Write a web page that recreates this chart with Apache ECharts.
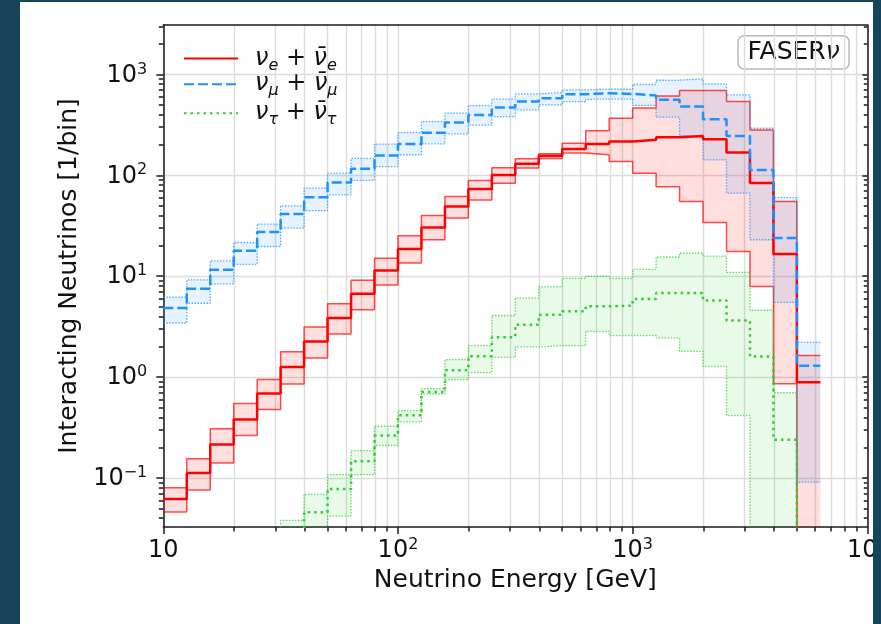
<!DOCTYPE html>
<html>
<head>
<meta charset="utf-8">
<title>FASERν interacting neutrino spectra</title>
<script src="https://cdn.jsdelivr.net/npm/echarts@6/dist/echarts.min.js"></script>
<style>
  html, body { margin: 0; padding: 0; width: 881px; height: 624px; overflow: hidden; background: #15445b; }
  #panel { position: absolute; left: 20px; top: 2px; width: 853px; height: 622px; background: #ffffff; overflow: hidden; }
  #chart { width: 853px; height: 622px; }
</style>
</head>
<body>
<div id="panel"><div id="chart"></div></div>
<script>
// Energy bin edges [GeV]: 10 logarithmic bins per decade
const binEdges = [10, 12.59, 15.85, 19.95, 25.12, 31.62, 39.81, 50.12, 63.10, 79.43,
  100, 125.9, 158.5, 199.5, 251.2, 316.2, 398.1, 501.2, 631.0, 794.3,
  1000, 1259, 1585, 1995, 2512, 3162, 3981, 5012, 6310];

// Interacting neutrinos per bin: central value and uncertainty band (0 = off scale)
const nueCentral = [0.062, 0.112, 0.215, 0.38, 0.69, 1.26, 2.26, 3.86, 6.7, 11.4,
  18.6, 30.4, 49, 73, 101, 130, 156, 182, 204, 216,
  225, 239, 246, 228, 168, 84, 16.6, 0.89];
const nueUpper = [0.080, 0.155, 0.307, 0.547, 0.945, 1.78, 3.14, 5.35, 9.1, 15.1,
  25.2, 40, 61.6, 88.9, 119, 146, 164, 208, 276, 368,
  465, 613, 692, 692, 539, 282, 55, 1.64];
const nueLower = [0.046, 0.076, 0.141, 0.264, 0.477, 0.857, 1.55, 2.68, 4.66, 8.2,
  13.5, 23, 37.7, 57.1, 83.6, 118, 147, 166, 160, 137,
  105, 77, 55, 34, 17.6, 7.9, 0.86, 0];

const numuCentral = [4.84, 7.5, 11.6, 17.9, 27.4, 41.3, 60.8, 85, 116, 157,
  204, 265, 333, 397, 469, 538, 581, 637, 652, 641,
  620, 560, 480, 360, 246, 113, 23.9, 1.30];
const numuUpper = [6.2, 9.2, 14.2, 21.6, 32.9, 49.9, 74.6, 105, 147, 204,
  265, 341, 413, 491, 568, 641, 661, 703, 713, 713,
  795, 876, 903, 805, 627, 293, 60, 2.21];
const numuLower = [3.44, 5.4, 8.4, 13.1, 19.7, 30.0, 44.6, 64, 89, 122,
  160, 205, 258, 314, 382, 446, 499, 538, 568, 568,
  493, 377, 246, 142, 66.7, 23, 5.5, 0.091];

const nutauCentral = [0, 0, 0, 0, 0, 0, 0.0459, 0.078, 0.147, 0.264,
  0.419, 0.713, 1.17, 1.61, 2.48, 3.31, 4.16, 4.49, 5.03, 5.11,
  5.94, 6.82, 6.82, 5.75, 3.65, 1.6, 0.24, 0];
const nutauUpper = [0, 0, 0, 0, 0, 0.038, 0.0687, 0.108, 0.187, 0.326,
  0.466, 0.769, 1.49, 2.05, 4.08, 6.08, 7.85, 9.5, 10.0, 9.5,
  11.7, 15.5, 17.0, 15.8, 10.9, 4.6, 0.70, 0];
const nutauLower = [0, 0, 0, 0, 0, 0, 0, 0.042, 0.108, 0.210,
  0.360, 0.682, 0.944, 1.11, 1.57, 1.99, 2.05, 2.05, 2.84, 2.58,
  2.58, 2.45, 1.80, 1.28, 0.416, 0, 0, 0];

// Tick values
const xMajorTicks = [10, 100, 1000, 10000];
const yMajorTicks = [0.1, 1, 10, 100, 1000];

const FONT = 'DejaVu Sans';
const TEXT = '#111111';
const X_MIN = 10, X_MAX = 10000;
const Y_MIN = 0.0327, Y_MAX = 3090;
const OFF_SCALE = 1e-3;                 // zero counts are drawn below the axis floor
const offScale = v => (v > 0 ? v : OFF_SCALE);

const xMinorTicks = [];
[10, 100, 1000].forEach(d => { for (let m = 2; m <= 9; m++) xMinorTicks.push(m * d); });
const yMinorTicks = [];
[0.01, 0.1, 1, 10, 100, 1000].forEach(d => {
  for (let m = 2; m <= 9; m++) { const v = m * d; if (v > Y_MIN && v < Y_MAX) yMinorTicks.push(v); }
});

const powerRich = {
  b: { fontFamily: FONT, fontSize: 24, lineHeight: 26, verticalAlign: 'bottom', color: TEXT },
  s: { fontFamily: FONT, fontSize: 16, lineHeight: 16, verticalAlign: 'top', color: TEXT }
};
function powerLabel(value, plainTen) {
  const e = Math.round(Math.log10(value));
  if (plainTen && e === 1) return '{b|10}';
  return '{b|10}{s|' + (e < 0 ? '\u2212' + (-e) : e) + '}';
}

// Step outline (matplotlib "post" style) through the bin edges
function stepPoints(values) {
  const pts = values.map((v, k) => [binEdges[k], offScale(v)]);
  pts.push([binEdges[values.length], offScale(values[values.length - 1])]);
  return pts;
}

function bandFill(name, lower, upper, fill) {
  return {
    type: 'custom', name: name, silent: true, z: 1,
    xAxisIndex: 0, yAxisIndex: 0,
    data: lower.map((lo, k) => [binEdges[k], binEdges[k + 1], offScale(lo), offScale(upper[k])]),
    encode: { x: [0, 1], y: [2, 3] },
    renderItem(params, api) {
      if (api.value(3) <= OFF_SCALE) return null;
      const p0 = api.coord([api.value(0), api.value(3)]);
      const p1 = api.coord([api.value(1), api.value(2)]);
      const cs = params.coordSys;
      const rect = echarts.graphic.clipRectByRect(
        { x: p0[0], y: p0[1], width: p1[0] - p0[0], height: p1[1] - p0[1] },
        { x: cs.x, y: cs.y, width: cs.width, height: cs.height });
      return rect ? { type: 'rect', shape: rect, style: { fill: fill } } : null;
    }
  };
}

function stepLine(name, values, lineStyle, z) {
  return {
    type: 'line', name: name, step: 'end', data: stepPoints(values),
    xAxisIndex: 0, yAxisIndex: 0, symbol: 'none', showSymbol: false,
    clip: true, silent: true, z: z, lineStyle: lineStyle,
    emphasis: { disabled: true }
  };
}

const RED = '#ff0000', BLUE = '#1e90ff', GREEN = '#32cd32';

const series = [
  bandFill('nue band', nueLower, nueUpper, 'rgba(255,0,0,0.13)'),
  bandFill('numu band', numuLower, numuUpper, 'rgba(30,144,255,0.11)'),
  bandFill('nutau band', nutauLower, nutauUpper, 'rgba(50,205,50,0.11)'),

  stepLine('nue upper', nueUpper, { color: 'rgba(255,0,0,0.7)', width: 1.5 }, 2),
  stepLine('nue lower', nueLower, { color: 'rgba(255,0,0,0.7)', width: 1.5 }, 2),
  stepLine('numu upper', numuUpper, { color: 'rgba(30,144,255,0.75)', width: 1.3, type: [1.5, 1.5] }, 2),
  stepLine('numu lower', numuLower, { color: 'rgba(30,144,255,0.75)', width: 1.3, type: [1.5, 1.5] }, 2),
  stepLine('nutau upper', nutauUpper, { color: 'rgba(50,205,50,0.75)', width: 1.3, type: [1.5, 1.5] }, 2),
  stepLine('nutau lower', nutauLower, { color: 'rgba(50,205,50,0.75)', width: 1.3, type: [1.5, 1.5] }, 2),

  stepLine('nue', nueCentral, { color: RED, width: 2.5 }, 3),
  stepLine('numu', numuCentral, { color: BLUE, width: 2.5, type: [10, 4] }, 3),
  stepLine('nutau', nutauCentral, { color: GREEN, width: 2.5, type: [2.5, 4] }, 3)
];
series[9].itemStyle = { color: RED };
series[10].itemStyle = { color: BLUE };
series[11].itemStyle = { color: GREEN };

const legendNames = { nue: 'e', numu: '\u03bc', nutau: '\u03c4' };
const legendRich = {
  v: { fontFamily: FONT, fontStyle: 'italic', fontSize: 24, lineHeight: 30, verticalAlign: 'middle', color: TEXT },
  p: { fontFamily: FONT, fontSize: 24, lineHeight: 30, verticalAlign: 'middle', color: TEXT },
  s: { fontFamily: FONT, fontStyle: 'italic', fontSize: 16, lineHeight: 14, verticalAlign: 'bottom', color: TEXT }
};
function legendFor(name, top) {
  return {
    data: [name], left: 163, top: top, padding: 0, orient: 'vertical',
    itemWidth: 54, itemHeight: 14, selectedMode: false,
    itemStyle: { opacity: 0 },
    formatter: n => {
      const f = legendNames[n];
      return '{v|\u03bd}{s|' + f + '}{p| + }{v|\u03bd\u0304}{s|' + f + '}';
    },
    textStyle: { rich: legendRich, padding: [0, 0, 0, 12] }
  };
}

const axisLineStyle = { color: '#1a1a1a', width: 1.5 };
const gridLineStyle = { color: '#dcdcdc', width: 1.4 };
const logAxisBase = (min, max) => ({ type: 'log', logBase: 10, min: min, max: max });

const option = {
  animation: false,
  backgroundColor: '#ffffff',
  textStyle: { fontFamily: FONT },
  grid: { left: 143.3, top: 23, right: 5.7, bottom: 97, containLabel: false, outerBoundsMode: 'none' },
  legend: [legendFor('nue', 44.5), legendFor('numu', 70.2), legendFor('nutau', 99.2)],
  xAxis: [
    Object.assign(logAxisBase(X_MIN, X_MAX), {
      position: 'bottom',
      name: 'Neutrino Energy [GeV]', nameLocation: 'middle', nameGap: 40,
      nameTextStyle: { fontFamily: FONT, fontSize: 25, color: TEXT, verticalAlign: 'top' },
      axisLine: { show: true, onZero: false, lineStyle: axisLineStyle },
      axisTick: { show: true, customValues: xMajorTicks, length: 7, lineStyle: axisLineStyle },
      axisLabel: { show: true, customValues: xMajorTicks, margin: 10, formatter: v => powerLabel(v, true), rich: powerRich },
      splitLine: { show: true, lineStyle: gridLineStyle },
      minorTick: { show: false }, minorSplitLine: { show: false }
    }),
    Object.assign(logAxisBase(X_MIN, X_MAX), {
      position: 'bottom',
      axisLine: { show: false, onZero: false },
      axisTick: { show: true, customValues: xMinorTicks, length: 4.5, lineStyle: axisLineStyle },
      axisLabel: { show: false },
      splitLine: { show: true, lineStyle: gridLineStyle }
    }),
    Object.assign(logAxisBase(X_MIN, X_MAX), {
      position: 'top',
      axisLine: { show: true, onZero: false, lineStyle: axisLineStyle },
      axisTick: { show: false }, axisLabel: { show: false }, splitLine: { show: false }
    })
  ],
  yAxis: [
    Object.assign(logAxisBase(Y_MIN, Y_MAX), {
      position: 'left',
      name: 'Interacting Neutrinos [1/bin]', nameLocation: 'middle', nameGap: 78,
      nameTextStyle: { fontFamily: FONT, fontSize: 25, color: TEXT },
      axisLine: { show: true, onZero: false, lineStyle: axisLineStyle },
      axisTick: { show: true, customValues: yMajorTicks, length: 7, lineStyle: axisLineStyle },
      axisLabel: { show: true, customValues: yMajorTicks, margin: 16, formatter: v => powerLabel(v, false), rich: powerRich },
      splitLine: { show: true, lineStyle: gridLineStyle }
    }),
    Object.assign(logAxisBase(Y_MIN, Y_MAX), {
      position: 'left',
      axisLine: { show: false, onZero: false },
      axisTick: { show: true, customValues: yMinorTicks, length: 4.5, lineStyle: axisLineStyle },
      axisLabel: { show: false }, splitLine: { show: false }
    }),
    Object.assign(logAxisBase(Y_MIN, Y_MAX), {
      position: 'right',
      axisLine: { show: true, onZero: false, lineStyle: axisLineStyle },
      axisTick: { show: true, inside: true, customValues: yMajorTicks, length: 5, lineStyle: axisLineStyle },
      axisLabel: { show: false }, splitLine: { show: false }
    }),
    Object.assign(logAxisBase(Y_MIN, Y_MAX), {
      position: 'right',
      axisLine: { show: false, onZero: false },
      axisTick: { show: true, inside: true, customValues: yMinorTicks, length: 3.5, lineStyle: axisLineStyle },
      axisLabel: { show: false }, splitLine: { show: false }
    })
  ],
  graphic: [{
    type: 'group', left: 717.3, top: 33, z: 100,
    children: [
      { type: 'rect', shape: { x: 0, y: 0, width: 111, height: 33.3, r: 6 },
        style: { fill: 'rgba(255,255,255,0.9)', stroke: '#b8b8b8', lineWidth: 1.5 } },
      { type: 'text', x: 55.5, y: 16.7,
        style: {
          text: '{t|FASER}{n|\u03bd}', align: 'center', verticalAlign: 'middle',
          rich: {
            t: { fontFamily: FONT, fontSize: 25, fill: TEXT },
            n: { fontFamily: FONT, fontSize: 25, fontStyle: 'italic', fill: TEXT }
          }
        } }
    ]
  }],
  series: series
};

const chart = echarts.init(document.getElementById('chart'), null, { renderer: 'canvas' });
chart.setOption(option);
</script>
</body>
</html>
